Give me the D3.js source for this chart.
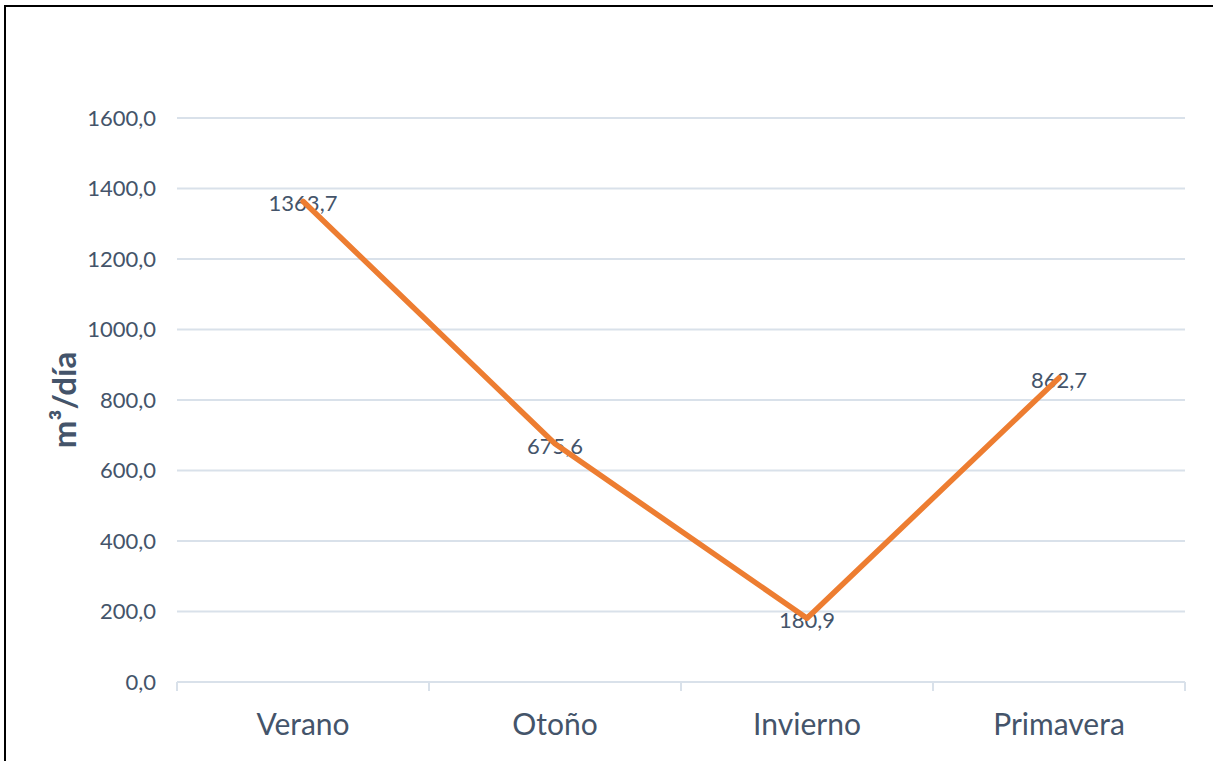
<!DOCTYPE html>
<html><head><meta charset="utf-8">
<script src="https://cdn.jsdelivr.net/npm/d3@7"></script>
<style>body{margin:0;background:#fff}svg{display:block}</style>
</head><body>
<script>
const categories = ["Verano", "Otoño", "Invierno", "Primavera"];
const values = [1363.7, 675.6, 180.9, 862.7];
const yTicks = [0, 200, 400, 600, 800, 1000, 1200, 1400, 1600];
const yTitle = "m³/día";

const W = 1213, H = 761;
const svg = d3.select("body").append("svg").attr("width", W).attr("height", H);
const font = "Lato, 'Open Sans', sans-serif";
const textColor = "#44546A";

// frame
svg.append("rect").attr("x", 5).attr("y", 6).attr("width", W + 10).attr("height", H + 10)
  .attr("fill", "none").attr("stroke", "#000").attr("stroke-width", 2);

const x = d3.scaleBand().domain(categories).range([177, 1185]);
const y = d3.scaleLinear().domain([0, 1600]).range([682, 118]);
const fmt = v => d3.format(".1f")(v).replace(".", ",");

// gridlines
svg.append("g").selectAll("line").data(yTicks.filter(d => d > 0)).join("line")
  .attr("x1", 177).attr("x2", 1185)
  .attr("y1", d => y(d)).attr("y2", d => y(d))
  .attr("stroke", "#D9E1EA").attr("stroke-width", 2);

// y labels
svg.append("g").selectAll("text").data(yTicks).join("text")
  .attr("x", 156).attr("y", d => y(d)).attr("dy", "0.35em")
  .attr("text-anchor", "end").attr("font-family", font).attr("font-size", 22)
  .attr("fill", textColor).text(fmt);

// x axis
const xAxis = d3.axisBottom(x).tickSize(0).tickPadding(0);
const gx = svg.append("g").attr("transform", `translate(0,${y(0)})`).call(xAxis);
gx.select(".domain").attr("stroke", "#D9E1EA").attr("stroke-width", 2)
  .attr("d", `M177,0H1185`);
gx.selectAll(".tick text").attr("font-family", font).attr("font-size", 30)
  .attr("fill", textColor).attr("dy", "0").attr("y", 53);
// band-edge ticks
const edges = categories.map(c => x(c)).concat([x.range()[1]]);
gx.append("g").selectAll("line").data(edges).join("line")
  .attr("x1", d => d).attr("x2", d => d).attr("y1", 0).attr("y2", 9)
  .attr("stroke", "#D9E1EA").attr("stroke-width", 2);

// y title
svg.append("text").attr("transform", "translate(76,400) rotate(-90)")
  .attr("text-anchor", "middle").attr("font-family", font).attr("font-size", 33)
  .attr("font-weight", "bold").attr("fill", textColor).text(yTitle);

const cx = c => x(c) + x.bandwidth() / 2;

// labels
svg.append("g").selectAll("text").data(values).join("text")
  .attr("x", (d, i) => cx(categories[i])).attr("y", d => y(d) + 2).attr("dy", "0.35em")
  .attr("text-anchor", "middle").attr("font-family", font).attr("font-size", 22)
  .attr("fill", textColor).text(fmt);

// line
const line = d3.line().x((d, i) => cx(categories[i])).y(d => y(d));
svg.append("path").datum(values).attr("d", line).attr("fill", "none")
  .attr("stroke", "#ED7D31").attr("stroke-width", 5.5).attr("stroke-linejoin", "round")
  .attr("stroke-linecap", "round");
</script>
</body></html>
